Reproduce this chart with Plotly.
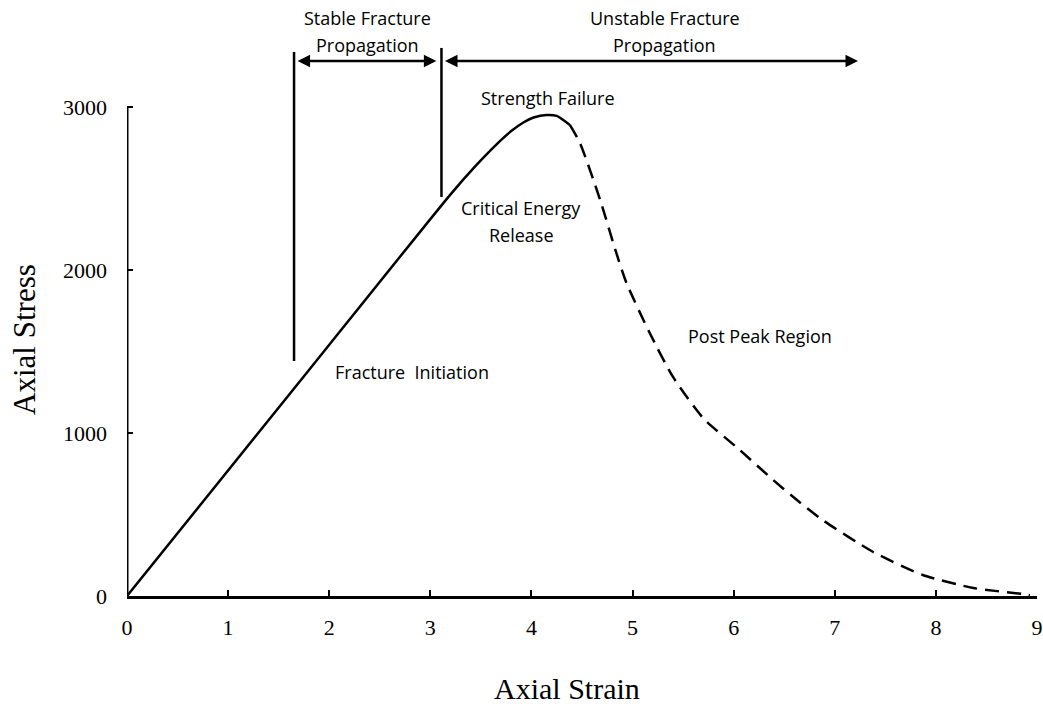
import plotly.graph_objects as go

# Stress-strain curve: pre-peak (solid) and post-peak (dashed) branches
pre_strain = [0, 1.80, 3.20, 3.45, 3.65, 3.80, 3.92, 4.02, 4.15, 4.25, 4.38]
pre_stress = [0, 1386, 2464, 2640, 2768, 2852, 2905, 2935, 2951, 2945, 2890]

post_strain = [4.38, 4.48, 4.68, 4.83, 4.94, 5.17, 5.40, 5.70, 6.06, 6.39,
               6.59, 6.88, 7.38, 7.87, 8.37, 8.86, 8.93]
post_stress = [2890, 2779, 2429, 2123, 1920, 1613, 1344, 1090, 896, 712,
               607, 466, 270, 129, 49, 12, 5]

# Stage boundaries (strain) and their marker line extents (stress)
initiation_strain = 1.652
initiation_span = [1442, 3337]
critical_strain = 3.11
critical_span = [2448, 3362]
unstable_end_strain = 7.23
arrow_stress = 3282

x_ticks = [0, 1, 2, 3, 4, 5, 6, 7, 8, 9]
y_ticks = [0, 1000, 2000, 3000]

LABEL_FONT = dict(family="Open Sans, Lato, sans-serif", size=18, color="black")
AXIS_FONT = "Liberation Serif, Times New Roman, serif"

fig = go.Figure()

fig.add_trace(go.Scatter(
    x=pre_strain, y=pre_stress, mode="lines",
    line=dict(color="black", width=2.5, shape="spline", smoothing=0.6),
    showlegend=False, hoverinfo="skip",
))
fig.add_trace(go.Scatter(
    x=post_strain, y=post_stress, mode="lines",
    line=dict(color="black", width=2.5, dash="14px,8px", shape="spline", smoothing=0.6),
    showlegend=False, hoverinfo="skip",
))

# Left axis line only up to the last tick
fig.add_shape(type="line", xref="x", yref="y", x0=0, x1=0, y0=0, y1=y_ticks[-1],
              line=dict(color="black", width=3))

# Vertical stage markers
for xs, span in [(initiation_strain, initiation_span), (critical_strain, critical_span)]:
    fig.add_shape(type="line", xref="x", yref="y", x0=xs, x1=xs, y0=span[0], y1=span[1],
                  line=dict(color="black", width=2.5))

# Double-headed arrows for the propagation stages
for x_start, x_end in [(initiation_strain + 0.02, critical_strain - 0.05),
                       (critical_strain + 0.02, unstable_end_strain)]:
    fig.add_annotation(
        x=x_end, y=arrow_stress, ax=x_start, ay=arrow_stress,
        xref="x", yref="y", axref="x", ayref="y",
        text="", showarrow=True, arrowhead=2, startarrowhead=2,
        arrowside="end+start", arrowsize=1.0, startarrowsize=1.0,
        arrowwidth=2.5, arrowcolor="black", standoff=0, startstandoff=0,
    )

labels = [
    ("Stable Fracture", 2.374, 3546),
    ("Propagation", 2.374, 3380),
    ("Unstable Fracture", 5.32, 3546),
    ("Propagation", 5.32, 3380),
    ("Strength Failure", 4.16, 3055),
    ("Critical Energy", 3.90, 2380),
    ("Release", 3.90, 2215),
    ("Fracture  Initiation", 2.82, 1374),
    ("Post Peak Region", 6.26, 1595),
]
for text, lx, ly in labels:
    fig.add_annotation(x=lx, y=ly, xref="x", yref="y", text=text.replace("  ", "&nbsp; "),
                       showarrow=False, font=LABEL_FONT,
                       xanchor="center", yanchor="middle")

# Axis titles
fig.add_annotation(x=3.61, y=-0.156, xref="x", yref="paper", text="Axial Strain",
                   showarrow=False, font=dict(family=AXIS_FONT, size=30, color="black"),
                   xanchor="left", yanchor="middle")
fig.add_annotation(x=-0.1121, y=1577, xref="paper", yref="y", text="Axial Stress",
                   textangle=-90, showarrow=False,
                   font=dict(family=AXIS_FONT, size=31, color="black"),
                   xanchor="center", yanchor="middle")

fig.update_layout(
    width=1043, height=704,
    margin=dict(l=127, r=6, t=1, b=108),
    paper_bgcolor="white", plot_bgcolor="white",
    showlegend=False,
)
fig.update_xaxes(
    range=[0, 9], tickvals=x_ticks, ticktext=[str(v) for v in x_ticks],
    showline=True, linewidth=3, linecolor="black",
    ticks="inside", ticklen=6, tickwidth=2, tickcolor="black",
    showgrid=False, zeroline=False,
    tickfont=dict(family=AXIS_FONT, size=22, color="black"),
    ticklabelstandoff=10,
)
fig.update_yaxes(
    range=[0, 3650], tickvals=y_ticks, ticktext=[str(v) for v in y_ticks],
    showline=False, ticks="inside", ticklen=6, tickwidth=2, tickcolor="black",
    showgrid=False, zeroline=False,
    tickfont=dict(family=AXIS_FONT, size=22, color="black"),
    ticklabelstandoff=19,
)

fig.write_html("out.html")
